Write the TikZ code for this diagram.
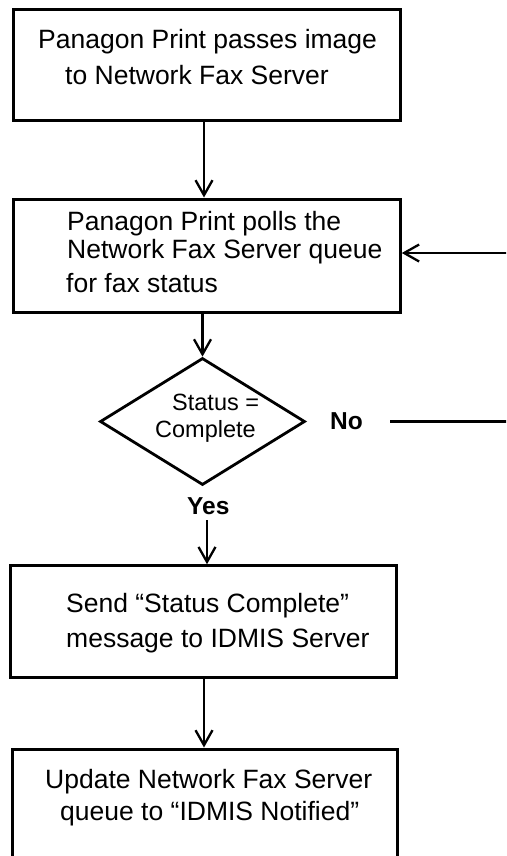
\documentclass[tikz,border=0pt]{standalone}
\usepackage{fontspec}
\setmainfont{Liberation Sans}
\usetikzlibrary{arrows.meta,shapes.geometric}
\begin{document}
\begin{tikzpicture}[x=1pt,y=-1pt,
  boxnode/.style={draw,line width=3pt,rectangle,inner sep=0pt},
  decnode/.style={draw,line width=2.8pt,diamond,inner sep=0pt,minimum width=205pt,minimum height=127pt},
  txt/.style={anchor=base west,inner sep=0pt,font=\fontsize{26.5}{30}\selectfont},
  dtxt/.style={anchor=base west,inner sep=0pt,font=\fontsize{23.5}{27}\selectfont},
  lbl/.style={anchor=base west,inner sep=0pt,font=\fontsize{24.5}{28}\selectfont\bfseries},
  arr/.style={line width=2.3pt,-{Straight Barb[length=15pt,width=17pt,line width=2.3pt]}},
  plain/.style={line width=3pt}]
\useasboundingbox (0,0) rectangle (506,856);
\clip (0,0) rectangle (506,856);
% boxes
\node[boxnode,minimum width=386.6pt,minimum height=111pt] (b1) at (207,65.5) {};
\node[boxnode,minimum width=386.6pt,minimum height=113pt] (b2) at (207,255.5) {};
\node[decnode] (d) at (202.5,421.5) {};
\node[boxnode,minimum width=385.8pt,minimum height=111.3pt] (b3) at (203.6,621.4) {};
\node[boxnode,minimum width=384.9pt,minimum height=151pt] (b4) at (205.3,824.5) {};
% texts
\node[txt] (t1a) at (38,49) {Panagon Print passes image};
\node[txt] (t1b) at (65,85) {to Network Fax Server};
\node[txt] (t2a) at (67,230) {Panagon Print polls the};
\node[txt] (t2b) at (67,258) {Network Fax Server queue};
\node[txt] (t2c) at (66,292) {for fax status};
\node[dtxt] (tda) at (172,410) {Status =};
\node[dtxt] (tdb) at (155,437) {Complete};
\node[lbl] (no) at (330,429) {No};
\node[lbl] (yes) at (187,514) {Yes};
\node[txt] (t3a) at (66,612) {Send “Status Complete”};
\node[txt] (t3b) at (66,647) {message to IDMIS Server};
\node[txt] (t4a) at (45,788) {Update Network Fax Server};
\node[txt] (t4b) at (60,820) {queue to “IDMIS Notified”};
% free ends
\coordinate (noS) at (390,421.5);
\coordinate (noE) at (507,421.5);
\coordinate (retS) at (507,253);
\coordinate (yesS) at (207,520);
% connectors
\draw[arr] (b1.south -| 204,0) -- (b2.north -| 204,0);
\draw[arr] (b2.south -| d.north) -- (d.north);
\draw[plain] (noS) -- (noE);
\draw[arr] (retS) -- (retS -| b2.east);
\draw[arr] (yesS) -- (yesS |- b3.north);
\draw[arr] (b3.south -| 204,0) -- (b4.north -| 204,0);
\end{tikzpicture}
\end{document}
